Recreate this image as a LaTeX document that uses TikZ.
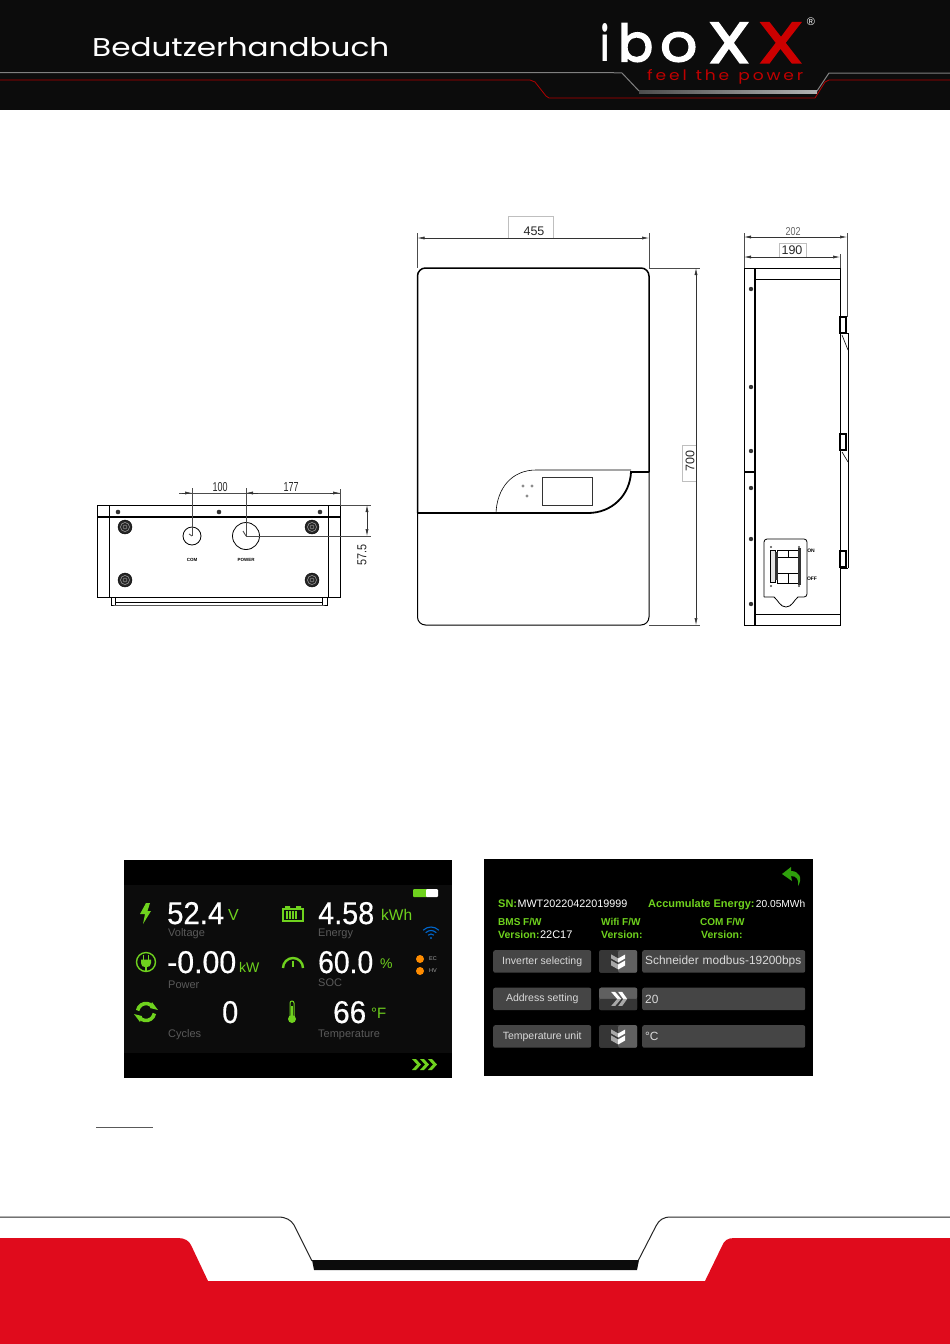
\documentclass[tikz,border=0pt]{standalone}
\usepackage{fontspec}
\setmainfont{Liberation Sans}
\newfontfamily\segfont[FakeBold=0.5]{Liberation Sans}
\newfontfamily\logofont{Poppins}
\newfontfamily\logoheavy[FakeBold=3]{Poppins}
\usetikzlibrary{matrix}
\usetikzlibrary{positioning}
\usetikzlibrary{arrows.meta}
\definecolor{hdrblack}{HTML}{0C0C0C}
\definecolor{ftrred}{HTML}{E00B1C}
\definecolor{lcdgreen}{HTML}{6FD21E}
\definecolor{lcdlabel}{HTML}{5A5A5A}
\definecolor{btngray}{HTML}{454545}
\definecolor{btnlight}{HTML}{606060}
\definecolor{btndark}{HTML}{363636}
\definecolor{chevgray}{HTML}{A8A8A8}
\newcommand{\seg}[2]{\resizebox{#1pt}{22pt}{\segfont #2}}
\begin{document}
\begin{tikzpicture}
  [x=1pt, y=-1pt,
    wire/.style={draw=black, line width=0.6pt},
    heavy/.style={draw=black, line width=1.8pt},
    dimline/.style={draw=black!80, line width=0.5pt, {Latex[length=7pt,width=3pt]}-{Latex[length=7pt,width=3pt]}},
    extline/.style={draw=black!70, line width=0.5pt},
    dimtext/.style={font=\fontsize{12.5}{12.5}\selectfont, inner sep=0pt, text=black!85},
    tagbox/.style={draw=black!25, line width=0.5pt},
    bolt/.style={fill=black!80, draw=none},
    gland/.style={circle, fill=black!85, draw=black, inner sep=0pt, minimum size=14pt},
    digit/.style={anchor=base west, inner sep=0pt, text=white},
    unit/.style={anchor=base west, inner sep=0pt, text=lcdgreen, font=\fontsize{14}{14}\selectfont},
    lcdtag/.style={anchor=base west, inner sep=0pt, text=lcdlabel, font=\fontsize{11}{11}\selectfont},
    info/.style={anchor=base west, inner sep=0pt, text=lcdgreen, font=\fontsize{10.5}{10.5}\selectfont\bfseries},
    infow/.style={anchor=base west, inner sep=0pt, text=white, font=\fontsize{10.5}{10.5}\selectfont},
    icon/.style={draw=lcdgreen, line width=1.4pt},
    mat/.style={matrix of nodes, anchor=north west, inner sep=0pt,
      nodes={fill=btngray, rounded corners=2pt, minimum height=22.5pt, inner sep=0pt,
        text=black!15, font=\fontsize{10.5}{10.5}\selectfont, anchor=center},
      column sep=8pt,
      row sep=15pt,
      nodes in empty cells,
      column 1/.style={nodes={minimum width=98pt}},
      column 2/.style={nodes={minimum width=38pt}},
      column 3/.style={nodes={minimum width=163pt, text width=157pt, align=left,
          font=\fontsize{11.9}{11.9}\selectfont}},
    }]
  \useasboundingbox (0,0) rectangle (950,1344);

  % header
  \fill[hdrblack] (0,0) rectangle (950,110);
  \draw[black!50, line width=1pt] (0,72.5) -- (606,72.5) -- (622,73) -- (639,91) (817,91) -- (829,73) -- (950,73);
  \shade[left color=black!70, right color=black!30] (639,90) rectangle (817,93);
  \draw[red!70!black, line width=0.8pt] (0,80) -- (530,80) -- (535,82) -- (546,96) -- (549,98) -- (815,98)
    -- (825,82) -- (829,80) -- (950,80);
  \node[anchor=south west, inner sep=0pt, text=white] (title) at (92,57)
    {\resizebox{297pt}{19pt}{\logofont Bedutzerhandbuch}};
  \node[anchor=south west, inner sep=0pt, text=white] (logoi) at (601,62) {\resizebox{7.5pt}{38pt}{\logofont\bfseries i}};
  \node[anchor=south west, inner sep=0pt, text=white] (logob) at (618,62) {\resizebox{35pt}{38pt}{\logoheavy b}};
  \node[anchor=south west, inner sep=0pt, text=white] (logoo) at (660,62) {\resizebox{37pt}{29pt}{\logoheavy o}};
  \node[anchor=south west, inner sep=0pt, text=white] (logox) at (708,63) {\resizebox{42pt}{40pt}{\logoheavy X}};
  \node[anchor=south west, inner sep=0pt, text=red!80!black] (logoxx) at (758,63) {\resizebox{45pt}{40pt}{\logoheavy X}};
  \node[text=white, inner sep=0pt, font=\fontsize{11}{11}\selectfont] (logoreg) at (811,22) {®};
  \node[anchor=south west, inner sep=0pt, text=red!75!black] (logotag) at (647,84)
    {\resizebox{156pt}{11pt}{\logofont f\,e\,e\,l\ \ t\,h\,e\ \ p\,o\,w\,e\,r}};

  % bottom view
  \draw[wire] (97.5,505) rectangle (340,597);
  \draw[wire] (109,505) -- (109,597) (328,505) -- (328,597);
  \draw[heavy] (97.5,517) -- (340,517);
  \draw[wire] (111,597) -- (111,605) -- (115,605) -- (322,605) -- (327,605) -- (327,597);
  \draw[wire] (115,597) -- (115,605) (322,597) -- (322,605) (115,602) -- (322,602);
  \foreach \bx in {118,219,320} {
    \fill[bolt] (\bx,512) circle (2.3);
  }
  \node[gland] (glandnw) at (125,527) {};
  \node[gland] (glandne) at (312,527) {};
  \node[gland] (glandsw) at (125,580) {};
  \node[gland] (glandse) at (312,580) {};
  \foreach \gname in {glandnw,glandne,glandsw,glandse} {
    \draw[black!35, line width=0.5pt] (\gname.center) circle (4.5);
    \draw[black!35, line width=0.4pt] (\gname.center) circle (2);
  }
  \node[circle, draw=black, line width=0.8pt, minimum size=18pt, inner sep=0pt] (comport) at (192,536) {};
  \node[circle, draw=black, line width=0.8pt, minimum size=27pt, inner sep=0pt] (powerport) at (246,536) {};
  \node[font=\fontsize{4.5}{4.5}\selectfont\bfseries, inner sep=0pt, below=13pt of comport] (comtext) {COM};
  \node[font=\fontsize{4.5}{4.5}\selectfont\bfseries, inner sep=0pt, below=8.5pt of powerport] (powertext) {POWER};
  \draw[extline] (192,488) -- (comport.center);
  \draw[extline, line width=0.9pt] (comport.center) -- ++(-3,-2);
  \draw[extline] (246,488) -- (powerport.center);
  \draw[extline, line width=0.9pt] (powerport.center) -- ++(-3,-5);
  \draw[extline] (340,489) -- (340,505) -- (371,505);
  \draw[extline] (powerport.center) -- (371,536);
  \draw[extline] (179,493) -- (340,493);
  \draw[draw=black!80, line width=0.5pt, {Latex[length=7pt,width=3pt]}-] (192,493) -- ++(-10,0);
  \draw[draw=black!80, line width=0.5pt, {Latex[length=7pt,width=3pt]}-] (246,493) -- ++(12,0);
  \draw[draw=black!80, line width=0.5pt, -{Latex[length=7pt,width=3pt]}] (330,493) -- (340,493);
  \draw[dimline] (367,505) -- (367,536);
  \node[dimtext] (hundred) at (220,487) {\resizebox{15pt}{9pt}{100}};
  \node[dimtext] (oneseven) at (291,487) {\resizebox{15pt}{9pt}{177}};
  \node[dimtext, rotate=90] (fiftyseven) at (362,555) {\resizebox{21pt}{9pt}{57.5}};

  % front view
  \draw[heavy, line width=1.5pt] (417.5,513) -- (417.5,276) [rounded corners=8pt] -- (417.5,268) -- (649,268) [rounded corners=0pt] -- (649,472);
  \draw[wire, line width=1pt] [rounded corners=8pt] (417.5,513) -- (417.5,625) -- (649,625) -- (649,472);
  \draw[heavy] (417.5,513) -- (588,513) .. controls (612,513) and (630,495) .. (631,472) -- (649,472);
  \draw[wire] (496,513) .. controls (497,488) and (512,470) .. (536,470) -- (631,470);
  \draw[wire, draw=black!80] (542,477) rectangle (592,505);
  \foreach \dx/\dy in {523/486,532/486,527/496} {
    \fill[black!45] (\dx,\dy) circle (1.6);
  }
  \draw[extline] (417.5,233) -- (417.5,268);
  \draw[extline] (649,233) -- (649,268);
  \draw[extline] (649,268) -- (700,268);
  \draw[extline] (649,625) -- (700,625);
  \draw[tagbox] (508,238) -- (508,216) -- (553,216) -- (553,238);
  \draw[dimline] (417.5,238) -- (649,238);
  \node[dimtext] (width) at (534,231) {455};
  \draw[tagbox] (696,445) -- (682,445) -- (682,481) -- (696,481);
  \draw[dimline] (696,268) -- (696,625);
  \node[dimtext, rotate=90] (height) at (690,461) {700};

  % side view
  \draw[wire, line width=1pt] (744,268) rectangle (840,625);
  \draw[heavy] (755,268) -- (755,625);
  \draw[wire] (755,279) -- (840,279) (755,614) -- (840,614);
  \draw[heavy] (744,472) -- (755,472);
  \foreach \sy in {289,387,451,488,539,604} {
    \fill[bolt] (751,\sy) circle (2.2);
  }
  \draw[wire, line width=1pt] (840.5,308) -- (840.5,570);
  \draw[wire] (848,333) -- (848,568) (840,333) -- (848,333) (840,568) -- (848,568);
  \draw[wire] (842,335) -- (848,350) (842,452) -- (848,462);
  \foreach \ly in {317,434,551} {
    \draw[wire, line width=1.2pt, fill=white] (840,\ly) rectangle (846,\ly+16);
  }
  \draw[wire, line width=0.8pt] [rounded corners=3pt] (764,597) -- (764,539) -- (807,539) -- (807,597) [sharp corners] -- (798,597)
    .. controls (794,600) and (792,607) .. (786,607) .. controls (780,607) and (778,600) .. (774,597) -- (764,597);
  \draw[wire, line width=0.8pt] (777,550) rectangle (798,583);
  \draw[wire, line width=0.8pt] (777,557) -- (798,557) (777,573) -- (798,573) (788,550) -- (788,557) (788,573) -- (788,583);
  \draw[wire, fill=black!10] (770,550) rectangle (775,582);
  \fill[black!80] (775,552) rectangle (777.5,580);
  \fill[black!80] (798,548) rectangle (801,585);
  \foreach \px/\py in {771/547,799/547,771/586,799/586} {
    \fill[black!70] (\px,\py) circle (1.2);
  }
  \node[font=\fontsize{5}{5}\selectfont\bfseries, inner sep=0pt] (ontext) at (811,551) {ON};
  \node[font=\fontsize{5}{5}\selectfont\bfseries, inner sep=0pt] (offtext) at (812,579) {OFF};
  \draw[extline] (744,233) -- (744,268);
  \draw[extline] (847,233) -- (847,317);
  \draw[extline] (840,254) -- (840,268);
  \draw[tagbox] (779,257) -- (779,243) -- (806,243) -- (806,257);
  \draw[dimline] (744,237) -- (847,237);
  \draw[dimline] (744,257) -- (840,257);
  \node[dimtext, text=black!60] (depthall) at (793,232) {\resizebox{15pt}{8pt}{202}};
  \node[dimtext] (depthbody) at (792,250) {190};

  % lcd main page
  \fill[black] (124,860) rectangle (452,1078);
  \fill[hdrblack] (124,885) rectangle (452,1053);
  \fill[lcdgreen] (146,903) -- (150,903) -- (147.5,911) -- (151,911) -- (143,924) -- (145,914) -- (140,914) -- cycle;
  \node[digit] (voltval) at (167,924) {\seg{57}{52.4}};
  \node[unit, font=\fontsize{16}{16}\selectfont] (voltunit) at (228,920) {V};
  \node[lcdtag] (volttext) at (168,936) {Voltage};
  \draw[icon, line width=1.8pt] (283,909) rectangle (303,921);
  \fill[lcdgreen] (285,906) rectangle (290,908) (296,906) rectangle (301,908);
  \foreach \bx in {286,289,292,295} {
    \fill[lcdgreen] (\bx,911) rectangle (\bx+1.8,919);
  }
  \node[digit] (energyval) at (318,924) {\seg{56}{4.58}};
  \node[unit, font=\fontsize{15.5}{15.5}\selectfont] (energyunit) at (381,920) {kWh};
  \node[lcdtag] (energytext) at (318,936) {Energy};
  \fill[lcdgreen, rounded corners=1pt] (413,889) rectangle (428,897);
  \fill[white, rounded corners=1pt] (426,889) rectangle (438,897);
  \foreach \wr in {4,7.5,11} {
    \draw[blue!50!cyan!80!black, line width=1.1pt] (431,938) ++(-135:\wr) arc (-135:-45:\wr);
  }
  \fill[blue!50!cyan!80!black] (431,938) circle (1.2);

  \draw[icon] (146,962) circle (9.5);
  \fill[lcdgreen] (141,959.5) -- (151,959.5) -- (151,963) .. controls (151,966) and (149,967) .. (147,967) -- (145,967)
    .. controls (143,967) and (141,966) .. (141,963) -- cycle;
  \draw[lcdgreen, line width=1.3pt] (143.5,954.5) -- (143.5,960) (148.5,954.5) -- (148.5,960) (146,967) -- (146,971);
  \node[digit] (powerval) at (167,973) {\seg{69}{-0.00}};
  \node[unit] (powerunit) at (239,972) {kW};
  \node[lcdtag] (powerlabel) at (168,988) {Power};
  \draw[icon, line width=2.4pt] (293,968) ++(-180:10) arc (-180:0:10);
  \draw[lcdgreen, line width=1.3pt] (293,961) -- (293,967);
  \node[digit] (socval) at (318,973) {\seg{55}{60.0}};
  \node[unit] (socunit) at (380,968) {\%};
  \node[lcdtag] (soctext) at (318,986) {SOC};
  \fill[orange!90!yellow] (420,959) circle (4);
  \fill[orange!90!yellow] (420,971) circle (4);
  \node[infow, anchor=west, font=\fontsize{5.5}{5.5}\selectfont, text=black!35] (ectext) at (429,959) {EC};
  \node[infow, anchor=west, font=\fontsize{5.5}{5.5}\selectfont, text=black!35] (hvtext) at (429,971) {HV};

  \draw[lcdgreen, line width=3.6pt] (146,1012) ++(-170:8.5) arc (-170:-40:8.5);
  \draw[lcdgreen, line width=3.6pt] (146,1012) ++(10:8.5) arc (10:140:8.5);
  \fill[lcdgreen] (150,1008) -- (158,1010) -- (152,1002) -- cycle;
  \fill[lcdgreen] (142,1016) -- (134,1014) -- (140,1022) -- cycle;
  \node[digit] (cycleval) at (222,1023) {\seg{16}{0}};
  \node[lcdtag] (cycletext) at (168,1037) {Cycles};
  \draw[icon, line width=1pt, rounded corners=2pt] (290,1018) -- (290,1001) -- (294,1001) -- (294,1018);
  \fill[lcdgreen] (292,1019) circle (4);
  \fill[lcdgreen] (291.3,1006) rectangle (292.7,1018);
  \node[digit] (tempval) at (333,1023) {\seg{33}{66}};
  \node[unit, font=\fontsize{15}{15}\selectfont] (tempunit) at (371,1018) {°F};
  \node[lcdtag] (temptext) at (318,1037) {Temperature};
  \foreach \cx in {412,420,428} {
    \fill[lcdgreen] (\cx,1059) -- (\cx+4,1059) -- (\cx+9,1064.5) -- (\cx+4,1070) -- (\cx,1070) -- (\cx+5,1064.5) -- cycle;
  }

  % lcd settings page
  \fill[black] (484,859) rectangle (813,1076);
  \fill[lcdgreen!60!green!70!black] (782,874) -- (791,867) -- (791,871) .. controls (799,871) and (803,878) .. (798,886)
    .. controls (799,880) and (797,876) .. (791,876) -- (792,881) -- cycle;
  \node[info, font=\fontsize{11}{11}\selectfont\bfseries] (sntag) at (498,907) {SN:};
  \node[infow, font=\fontsize{10.8}{10.8}\selectfont, base right=0pt of sntag] (snval) {MWT20220422019999};
  \node[info, font=\fontsize{11}{11}\selectfont\bfseries] (acctag) at (648,907) {Accumulate Energy:};
  \node[infow, font=\fontsize{10.2}{10.2}\selectfont, base right=1pt of acctag] (accval) {20.05MWh};
  \node[info, font=\fontsize{10}{10}\selectfont\bfseries] (bmstext) at (498,925) {BMS F/W};
  \node[info, font=\fontsize{10}{10}\selectfont\bfseries] (wifitext) at (601,925) {Wifi F/W};
  \node[info, font=\fontsize{10}{10}\selectfont\bfseries] (comfw) at (700,925) {COM F/W};
  \node[info] (bmsver) at (498,938) {Version:};
  \node[infow, font=\fontsize{11}{11}\selectfont, base right=0pt of bmsver] (bmsval) {22C17};
  \node[info] (wifiver) at (601,938) {Version:};
  \node[info] (comver) at (701,938) {Version:};

  \matrix[mat] (settings) at (493,950)
         {
           Inverter selecting & &[-3pt] Schneider modbus-19200bps \\
           Address setting    & & 20 \\
           Temperature unit   & & °C \\
         };
  \foreach \rowno in {1,3} {
    \begin{scope}[shift={(settings-\rowno-2.center)}]
      \fill[btndark, rounded corners=2pt] (-19,-11.25) rectangle (0,11.25);
      \fill[btnlight, rounded corners=2pt] (0,-11.25) rectangle (19,11.25);
      \fill[chevgray] (-7,-7) -- (0,-3) -- (0,1) -- (-7,-3) -- cycle (-7,-1) -- (0,3) -- (0,8) -- (-7,4) -- cycle;
      \fill[white] (7,-7) -- (0,-3) -- (0,1) -- (7,-3) -- cycle (7,-1) -- (0,3) -- (0,8) -- (7,4) -- cycle;
    \end{scope}
  }
  \begin{scope}[shift={(settings-2-2.center)}]
    \fill[btnlight, rounded corners=2pt] (-19,-11.25) rectangle (19,0);
    \fill[btndark, rounded corners=2pt] (-19,0) rectangle (19,11.25);
    \fill[white] (-7,-7) -- (-3,-7) -- (3,0) -- (-1,0) -- cycle (0,-7) -- (4,-7) -- (9,0) -- (5,0) -- cycle;
    \fill[chevgray] (-7,7) -- (-3,7) -- (3,0) -- (-1,0) -- cycle (0,7) -- (4,7) -- (9,0) -- (5,0) -- cycle;
  \end{scope}

  % underline below the screens
  \draw[black!65, line width=1pt] (96,1127) -- (153,1127);

  % footer
  \fill[ftrred] (0,1344) -- (0,1238) -- (178,1238) .. controls (185,1238) and (189,1241) .. (191,1245)
    -- (208,1281) -- (705,1281) -- (722,1246) .. controls (724,1241) and (727,1238) .. (734,1238) -- (950,1238) -- (950,1344) -- cycle;
  \fill[hdrblack] (312,1260) -- (639,1260) -- (637,1270) -- (314,1270) -- cycle;
  \draw[black!85, line width=1pt] (0,1217) -- (278,1217) .. controls (286,1217) and (291,1220) .. (294,1225)
    -- (312,1261) (638,1261) -- (656,1226) .. controls (659,1220) and (663,1217) .. (671,1217) -- (950,1217);
\end{tikzpicture}
\end{document}
